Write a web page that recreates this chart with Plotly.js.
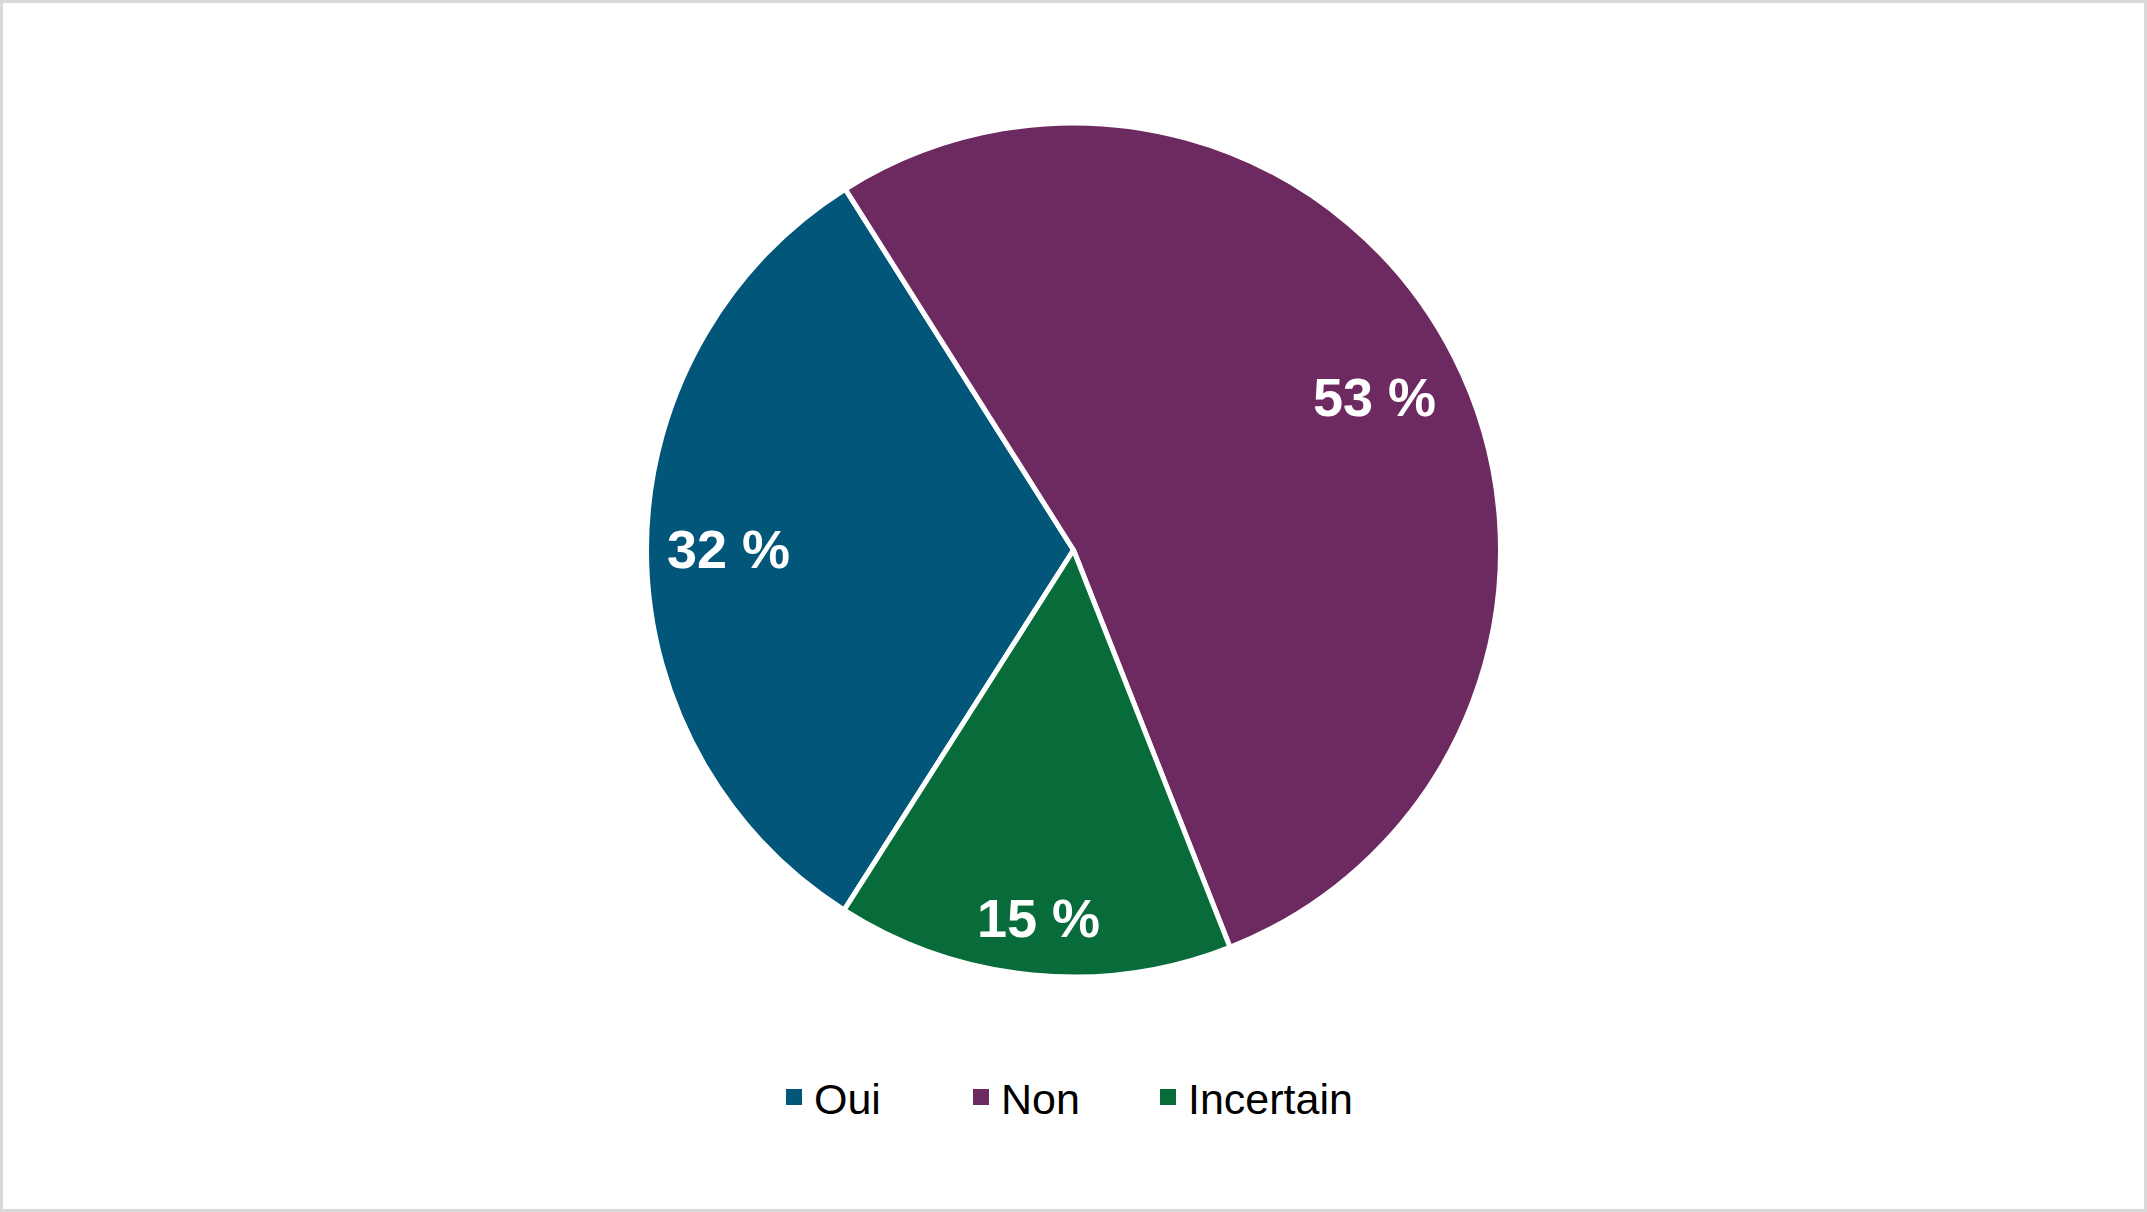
<!DOCTYPE html>
<html>
<head>
<meta charset="utf-8">
<script src="https://cdn.plot.ly/plotly-3.0.1.min.js"></script>
<style>
html,body{margin:0;padding:0;background:#fff;}
#chart{width:2147px;height:1212px;}
</style>
</head>
<body>
<div id="chart"></div>
<script>
const categories = ["Oui", "Non", "Incertain"];
const values = [32, 53, 15];
const labels = ["32 %", "53 %", "15 %"];
const colors = ["#02567A", "#6D2A60", "#076B3A"];

const W = 2147, H = 1212;
const cx = 1073.5, cy = 550, R = 427;
const rotation = -147.5;

// label placement inside the outer edge of each slice ("inside end")
const total = values.reduce((a, b) => a + b, 0);
const annotations = [];
let start = rotation;
const hw = 62, hh = 32, margin = 20;
values.forEach((v, i) => {
  const span = v / total * 360;
  const mid = (start + span / 2) * Math.PI / 180;
  const sx = Math.sin(mid), sy = -Math.cos(mid);
  const ext = hw * Math.abs(sx) + hh * Math.abs(sy);
  const r = R - margin - ext;
  const px = cx + r * sx, py = cy + r * sy;
  annotations.push({
    xref: "paper", yref: "paper",
    x: px / W, y: 1 - py / H,
    xanchor: "center", yanchor: "middle",
    text: labels[i], showarrow: false,
    font: {family: "Liberation Sans, Arial, sans-serif", size: 54, color: "#ffffff", weight: "bold"}
  });
  start += span;
});

const pie = {
  type: "pie",
  labels: categories,
  values: values,
  sort: false,
  direction: "clockwise",
  rotation: rotation,
  textinfo: "none",
  hoverinfo: "none",
  showlegend: false,
  marker: {colors: colors, line: {color: "#ffffff", width: 5}},
  domain: {x: [0, 1], y: [1 - (cy + R) / H, 1 - (cy - R) / H]}
};

// legend entries (square swatches)
const legendTraces = categories.map((c, i) => ({
  type: "scatter", mode: "markers", x: [null], y: [null], name: c,
  marker: {symbol: "square", size: 16, color: colors[i]},
  hoverinfo: "none", showlegend: true
}));
// blank spacer entry so the last label is not clipped
legendTraces.push({
  type: "scatter", mode: "markers", x: [null], y: [null], name: " ",
  marker: {symbol: "square", size: 16, color: "rgba(0,0,0,0)"},
  hoverinfo: "none", showlegend: true
});

const layout = {
  width: W, height: H,
  margin: {l: 0, r: 0, t: 0, b: 0},
  paper_bgcolor: "#ffffff",
  plot_bgcolor: "rgba(0,0,0,0)",
  xaxis: {visible: false, showgrid: false, zeroline: false},
  yaxis: {visible: false, showgrid: false, zeroline: false},
  showlegend: true,
  legend: {
    orientation: "h", x: 774 / W, xanchor: "left", y: 1 - 1097 / H, yanchor: "middle",
    font: {family: "Liberation Sans, Arial, sans-serif", size: 43, color: "#000000"},
    entrywidthmode: "pixels", entrywidth: 142
  },
  annotations: annotations,
  shapes: [{type: "rect", xref: "paper", yref: "paper", x0: 0, x1: 1, y0: 0, y1: 1,
            line: {color: "#d9d9d9", width: 6}, fillcolor: "rgba(0,0,0,0)"}]
};

Plotly.newPlot("chart", [pie].concat(legendTraces), layout, {staticPlot: true, displayModeBar: false});
</script>
</body>
</html>
